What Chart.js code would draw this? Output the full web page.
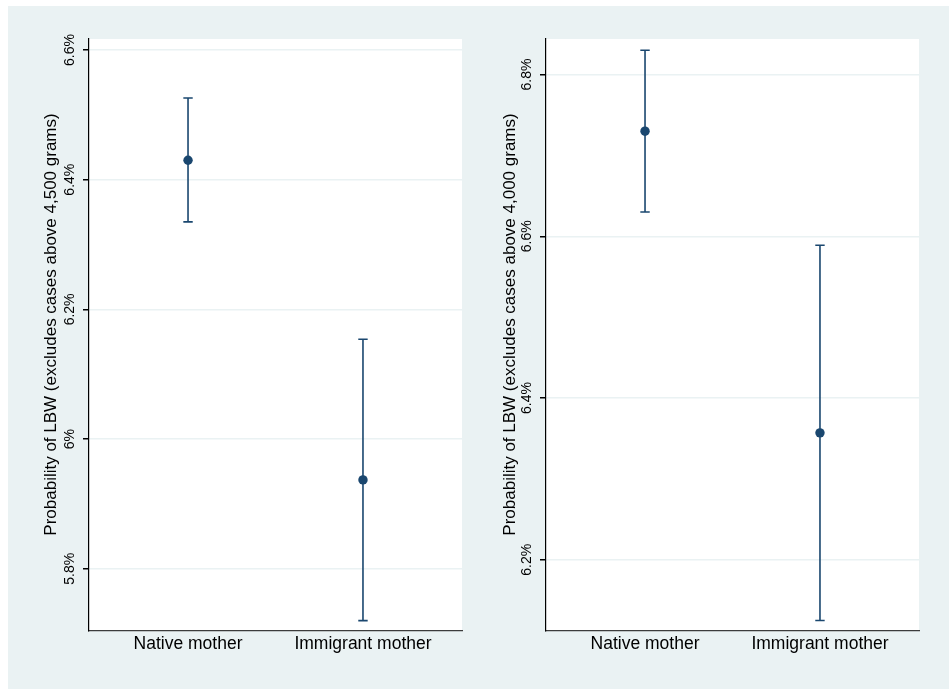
<!DOCTYPE html>
<html>
<head>
<meta charset="utf-8">
<script src="https://cdn.jsdelivr.net/npm/chart.js@4.4.1/dist/chart.umd.min.js"></script>
<style>
  html, body { margin: 0; padding: 0; background: #ffffff; width: 949px; height: 689px; overflow: hidden; }
  #frame { position: absolute; left: 8px; top: 6px; width: 941px; height: 683px; background: #eaf2f3; }
  canvas { position: absolute; top: 6px; }
  #panel4500 { left: 8px; }
  #panel4000 { left: 478px; }
</style>
</head>
<body>
<div id="frame"></div>
<canvas id="panel4500" width="470" height="683"></canvas>
<canvas id="panel4000" width="471" height="683"></canvas>
<script>
// Groups on the horizontal axis
const categories = ['Native mother', 'Immigrant mother'];

// Left panel: sample excluding births above 4,500 grams (percent)
const lbw4500Estimate = [6.430, 5.937];
const lbw4500Lower    = [6.335, 5.720];
const lbw4500Upper    = [6.526, 6.154];
const lbw4500Ticks      = [5.8, 6.0, 6.2, 6.4, 6.6];
const lbw4500TickLabels = ['5.8%', '6%', '6.2%', '6.4%', '6.6%'];
const lbw4500Title = 'Probability of LBW (excludes cases above 4,500 grams)';

// Right panel: sample excluding births above 4,000 grams (percent)
const lbw4000Estimate = [6.730, 6.357];
const lbw4000Lower    = [6.630, 6.125];
const lbw4000Upper    = [6.830, 6.589];
const lbw4000Ticks      = [6.2, 6.4, 6.6, 6.8];
const lbw4000TickLabels = ['6.2%', '6.4%', '6.6%', '6.8%'];
const lbw4000Title = 'Probability of LBW (excludes cases above 4,000 grams)';

const FONT = '"Liberation Sans", Arial, Helvetica, sans-serif';
const NAVY = '#1a476f';

// White plot region inside the tinted frame
const plotBackground = {
  id: 'plotBackground',
  beforeDraw(chart) {
    const { ctx, chartArea: a } = chart;
    ctx.save();
    ctx.fillStyle = '#ffffff';
    ctx.fillRect(a.left, a.top, a.right - a.left, a.bottom - a.top);
    ctx.restore();
  }
};

// Capped confidence-interval spikes, positioned through the chart scales
const errorBars = {
  id: 'errorBars',
  beforeDatasetsDraw(chart, args, opts) {
    const { ctx, scales: { x, y } } = chart;
    ctx.save();
    ctx.strokeStyle = opts.color;
    ctx.lineWidth = opts.width;
    opts.lower.forEach((lo, i) => {
      const px = x.getPixelForValue(i + 1);
      const yLo = y.getPixelForValue(lo);
      const yHi = y.getPixelForValue(opts.upper[i]);
      ctx.beginPath();
      ctx.moveTo(px, yLo); ctx.lineTo(px, yHi);
      ctx.moveTo(px - opts.cap, yLo); ctx.lineTo(px + opts.cap, yLo);
      ctx.moveTo(px - opts.cap, yHi); ctx.lineTo(px + opts.cap, yHi);
      ctx.stroke();
    });
    ctx.restore();
  }
};

// Vertical axis title, centred on the whole graph region rather than the plot
const sideTitle = {
  id: 'sideTitle',
  afterDraw(chart, args, opts) {
    const { ctx } = chart;
    ctx.save();
    ctx.translate(opts.x, opts.y);
    ctx.rotate(-Math.PI / 2);
    ctx.fillStyle = '#000';
    ctx.font = '17px ' + FONT;
    ctx.textAlign = 'center';
    ctx.textBaseline = 'middle';
    ctx.fillText(opts.text, 0, 0);
    ctx.restore();
  }
};

function makePanel(canvasId, cfg) {
  return new Chart(document.getElementById(canvasId), {
    type: 'scatter',
    data: {
      datasets: [{
        data: cfg.estimate.map((v, i) => ({ x: i + 1, y: v })),
        pointRadius: 4.7,
        pointHoverRadius: 4.7,
        pointBackgroundColor: NAVY,
        pointBorderWidth: 0,
        showLine: false
      }]
    },
    options: {
      responsive: false,
      animation: false,
      events: [],
      layout: { padding: { left: 0, top: 33, right: cfg.padRight, bottom: 0 } },
      plugins: {
        legend: { display: false },
        tooltip: { enabled: false },
        errorBars: { lower: cfg.lower, upper: cfg.upper, color: NAVY, width: 1.6, cap: 4.7 },
        sideTitle: { text: cfg.title, x: cfg.titleX, y: 318.5 }
      },
      scales: {
        x: {
          type: 'linear',
          min: 0.434,
          max: 2.566,
          afterBuildTicks: s => { s.ticks = categories.map((c, i) => ({ value: i + 1 })); },
          afterFit: s => { s.height = 58; },
          ticks: {
            autoSkip: false, minRotation: 0, maxRotation: 0, padding: 3,
            color: '#000', font: { family: FONT, size: 17.5 },
            callback: v => categories[v - 1]
          },
          grid: { display: false, drawTicks: false },
          border: { display: true, color: '#3c3c3c', width: 1.2 }
        },
        y: {
          type: 'linear',
          min: cfg.min,
          max: cfg.max,
          afterBuildTicks: s => { s.ticks = cfg.ticks.map(v => ({ value: v })); },
          afterFit: s => { s.width = cfg.axisWidth; },
          ticks: {
            minRotation: 90, maxRotation: 90, crossAlign: 'center', padding: -3,
            color: '#000', font: { family: FONT, size: 14 },
            callback: (v, i) => cfg.tickLabels[i]
          },
          grid: { color: '#eaf2f3', lineWidth: 1.5, tickColor: '#000', tickLength: 6, drawTicks: true },
          border: { display: true, color: '#000', width: 1.2 },
          title: { display: false }
        }
      }
    },
    plugins: [plotBackground, errorBars, sideTitle]
  });
}

makePanel('panel4500', {
  estimate: lbw4500Estimate, lower: lbw4500Lower, upper: lbw4500Upper,
  ticks: lbw4500Ticks, tickLabels: lbw4500TickLabels,
  min: 5.704, max: 6.617,
  title: lbw4500Title, titleX: 43.5,
  axisWidth: 81, padRight: 16
});

makePanel('panel4000', {
  estimate: lbw4000Estimate, lower: lbw4000Lower, upper: lbw4000Upper,
  ticks: lbw4000Ticks, tickLabels: lbw4000TickLabels,
  min: 6.112, max: 6.844,
  title: lbw4000Title, titleX: 32.5,
  axisWidth: 68, padRight: 30
});
</script>
</body>
</html>
